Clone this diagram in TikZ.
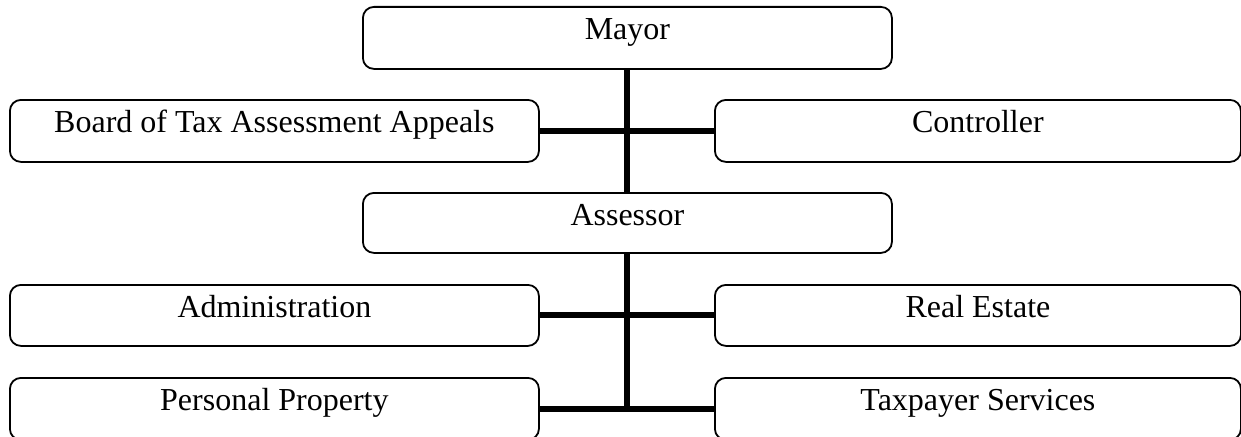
\documentclass[tikz,border=0pt]{standalone}
\usepackage{fontspec}
\setmainfont{Liberation Serif}
\begin{document}
\begin{tikzpicture}[x=1pt,y=-1pt,
  orgbox/.style={draw, line width=1.8pt, rounded corners=11pt, anchor=north west,
    inner xsep=0pt, inner ysep=0pt, text height=33pt, text depth=29pt,
    font=\fontsize{32}{38}\selectfont},
  wide/.style={minimum width=529pt},
  conn/.style={line width=6pt}]
\useasboundingbox (0,0) rectangle (1241,436);
\node[orgbox, wide] (mayor) at (362,6) {Mayor};
\node[orgbox, wide] (board) at (9,99) {Board of Tax Assessment Appeals};
\node[orgbox, minimum width=526pt] (ctrl) at (714,99) {Controller};
\node[orgbox, text depth=27pt, wide] (assr) at (362,192) {Assessor};
\node[orgbox, text depth=28pt, wide] (admin) at (9,284) {Administration};
\node[orgbox, text depth=28pt, minimum width=526pt] (real) at (714,284) {Real Estate};
\node[orgbox, wide] (pers) at (9,377) {Personal Property};
\node[orgbox, minimum width=526pt] (tax) at (714,377) {Taxpayer Services};
\coordinate (bend) at (assr.south |- pers.east);
\draw[conn] (mayor.south) -- (assr.north);
\draw[conn] (board.east) -- (ctrl.west);
\draw[conn] (assr.south) -- (bend);
\draw[conn] (admin.east) -- (real.west);
\draw[conn] (pers.east) -- (tax.west);
\end{tikzpicture}
\end{document}
